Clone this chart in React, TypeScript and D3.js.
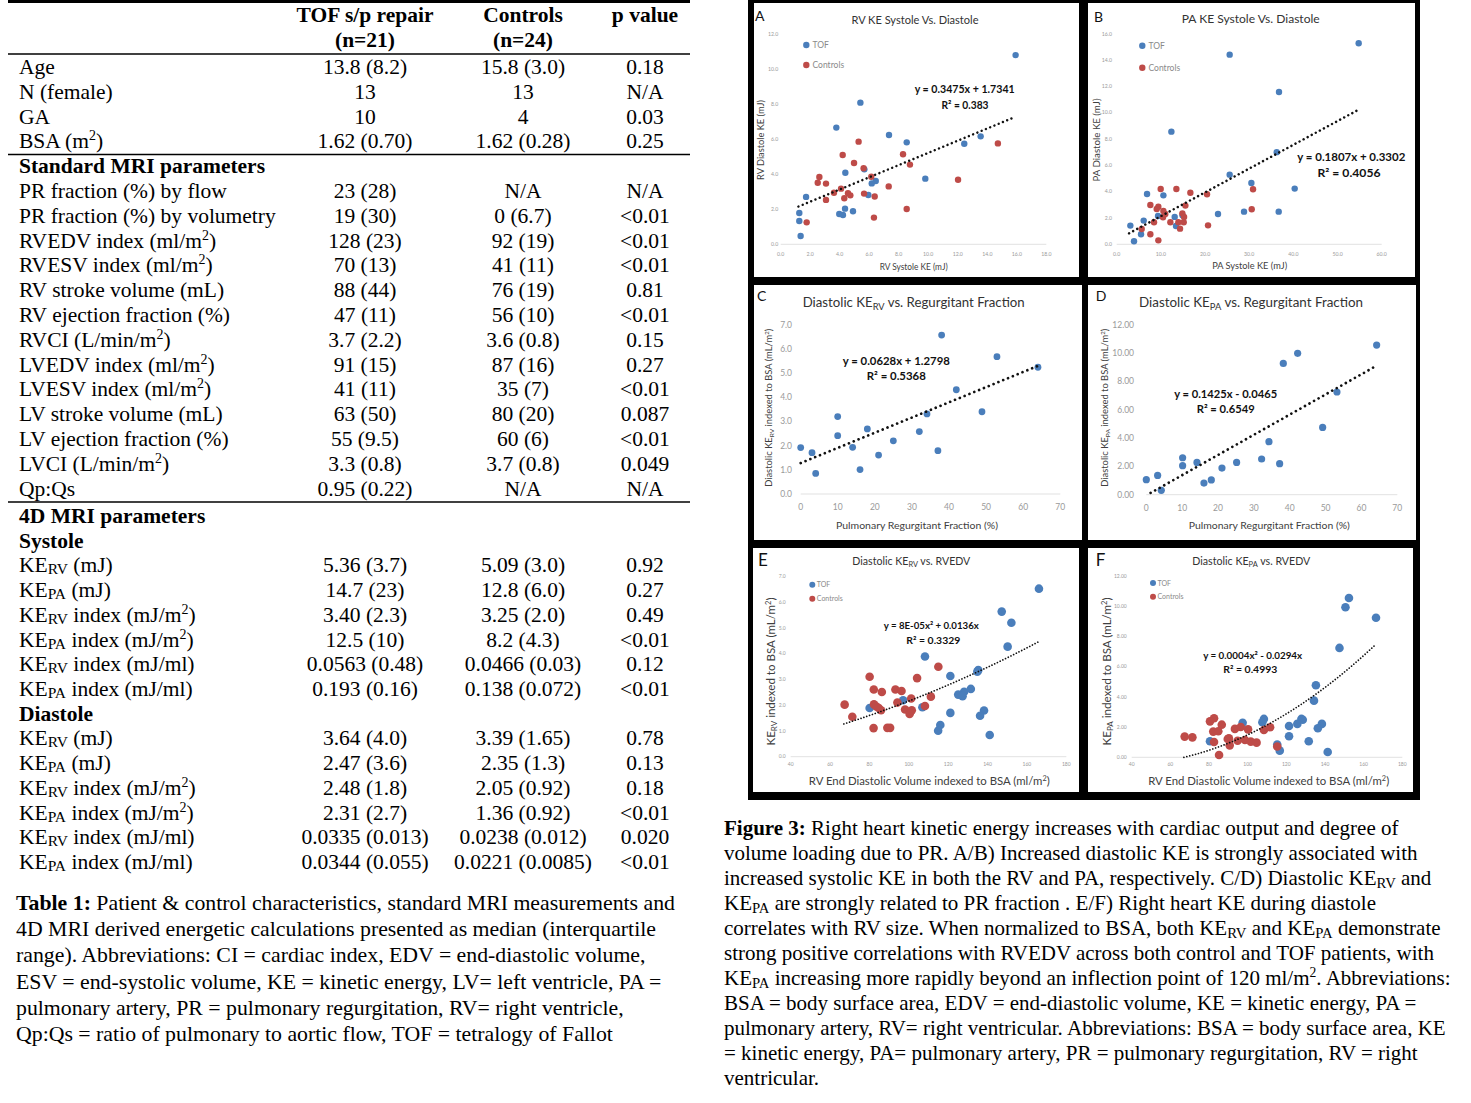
import React from 'react';
import * as d3 from 'd3';

// ---------------- Table data ----------------
const tableHead1 = ['TOF s/p repair', 'Controls', 'p value'];
const tableHead2 = ['(n=21)', '(n=24)', ''];

const tableBlock1: string[][] = [
  ['Age', '13.8 (8.2)', '15.8 (3.0)', '0.18'],
  ['N (female)', '13', '13', 'N/A'],
  ['GA', '10', '4', '0.03'],
  ['BSA (m^{2})', '1.62 (0.70)', '1.62 (0.28)', '0.25'],
  ['**Standard MRI parameters**', '', '', ''],
  ['PR fraction (%) by flow', '23 (28)', 'N/A', 'N/A'],
  ['PR fraction (%) by volumetry', '19 (30)', '0 (6.7)', '<0.01'],
  ['RVEDV index (ml/m^{2})', '128 (23)', '92 (19)', '<0.01'],
  ['RVESV index (ml/m^{2})', '70 (13)', '41 (11)', '<0.01'],
  ['RV stroke volume (mL)', '88 (44)', '76 (19)', '0.81'],
  ['RV ejection fraction (%)', '47 (11)', '56 (10)', '<0.01'],
  ['RVCI (L/min/m^{2})', '3.7 (2.2)', '3.6 (0.8)', '0.15'],
  ['LVEDV index (ml/m^{2})', '91 (15)', '87 (16)', '0.27'],
  ['LVESV index (ml/m^{2})', '41 (11)', '35 (7)', '<0.01'],
  ['LV stroke volume (mL)', '63 (50)', '80 (20)', '0.087'],
  ['LV ejection fraction (%)', '55 (9.5)', '60 (6)', '<0.01'],
  ['LVCI (L/min/m^{2})', '3.3 (0.8)', '3.7 (0.8)', '0.049'],
  ['Qp:Qs', '0.95 (0.22)', 'N/A', 'N/A'],
];

const tableBlock2: string[][] = [
  ['**4D MRI parameters**', '', '', ''],
  ['**Systole**', '', '', ''],
  ['KE_{RV} (mJ)', '5.36 (3.7)', '5.09 (3.0)', '0.92'],
  ['KE_{PA} (mJ)', '14.7 (23)', '12.8 (6.0)', '0.27'],
  ['KE_{RV} index (mJ/m^{2})', '3.40 (2.3)', '3.25 (2.0)', '0.49'],
  ['KE_{PA} index (mJ/m^{2})', '12.5 (10)', '8.2 (4.3)', '<0.01'],
  ['KE_{RV} index (mJ/ml)', '0.0563 (0.48)', '0.0466 (0.03)', '0.12'],
  ['KE_{PA} index (mJ/ml)', '0.193 (0.16)', '0.138 (0.072)', '<0.01'],
  ['**Diastole**', '', '', ''],
  ['KE_{RV} (mJ)', '3.64 (4.0)', '3.39 (1.65)', '0.78'],
  ['KE_{PA} (mJ)', '2.47 (3.6)', '2.35 (1.3)', '0.13'],
  ['KE_{RV} index (mJ/m^{2})', '2.48 (1.8)', '2.05 (0.92)', '0.18'],
  ['KE_{PA} index (mJ/m^{2})', '2.31 (2.7)', '1.36 (0.92)', '<0.01'],
  ['KE_{RV} index (mJ/ml)', '0.0335 (0.013)', '0.0238 (0.012)', '0.020'],
  ['KE_{PA} index (mJ/ml)', '0.0344 (0.055)', '0.0221 (0.0085)', '<0.01'],
];

const tableCaption = [
  '**Table 1:** Patient & control characteristics, standard MRI measurements and',
  '4D MRI derived energetic calculations presented as median (interquartile',
  'range). Abbreviations: CI = cardiac index, EDV = end-diastolic volume,',
  'ESV = end-systolic volume, KE = kinetic energy, LV= left ventricle, PA =',
  'pulmonary artery, PR = pulmonary regurgitation, RV= right ventricle,',
  'Qp:Qs = ratio of pulmonary to aortic flow, TOF = tetralogy of Fallot',
];

const figCaption = [
  '**Figure 3:** Right heart kinetic energy increases with cardiac output and degree of',
  'volume loading due to PR. A/B) Increased diastolic KE is strongly associated with',
  'increased systolic KE in both the RV and PA, respectively. C/D) Diastolic KE_{RV} and',
  'KE_{PA} are strongly related to PR fraction . E/F) Right heart KE during diastole',
  'correlates with RV size. When normalized to BSA, both KE_{RV} and KE_{PA} demonstrate',
  'strong positive correlations with RVEDV across both control and TOF patients, with',
  'KE_{PA} increasing more rapidly beyond an inflection point of 120 ml/m^{2}. Abbreviations:',
  'BSA = body surface area, EDV = end-diastolic volume, KE = kinetic energy, PA =',
  'pulmonary artery, RV= right ventricular. Abbreviations: BSA = body surface area, KE',
  '= kinetic energy, PA= pulmonary artery, PR = pulmonary regurgitation, RV = right',
  'ventricular.',
];

// ---------------- Scatter data ----------------
const legendLabels = ['TOF', 'Controls'];

const aTof: [number, number][] = [[15.92,10.78],[5.40,8.07],[3.77,6.65],[7.34,6.23],[8.54,5.81],[12.44,5.73],[13.55,6.15],[9.80,3.74],[4.38,4.08],[5.67,4.27],[6.17,3.47],[6.44,3.61],[5.94,2.81],[1.72,2.70],[4.36,2.03],[4.90,1.88],[3.97,1.73],[4.22,1.67],[1.26,1.78],[1.26,1.33],[1.35,0.47]];
const aCtl: [number, number][] = [[5.28,5.85],[4.20,5.09],[4.97,4.63],[5.62,4.33],[8.29,5.13],[8.76,4.54],[14.72,5.75],[12.02,3.68],[2.62,3.84],[2.51,3.51],[3.07,3.46],[6.14,3.85],[7.32,3.30],[4.09,3.17],[3.61,2.94],[4.56,2.91],[4.72,2.79],[5.65,2.89],[6.37,2.72],[3.07,2.53],[4.31,2.62],[8.54,2.01],[6.32,1.52],[1.76,1.25]];

const bTof: [number, number][] = [[54.79,15.27],[25.58,14.41],[36.75,11.57],[12.38,8.56],[36.23,7.0],[25.58,5.29],[30.49,4.66],[40.30,4.23],[6.87,3.82],[10.57,3.72],[22.94,2.30],[28.83,2.48],[36.68,2.48],[6.11,1.80],[9.36,2.15],[13.13,2.08],[13.43,1.39],[3.09,1.42],[5.51,0.76],[3.92,0.23],[14.9,2.2]];
const bCtl: [number, number][] = [[9.96,4.20],[13.51,4.20],[16.68,3.92],[20.45,3.80],[30.87,4.18],[30.57,2.66],[7.62,2.99],[9.43,2.86],[9.06,2.68],[10.57,2.53],[10.49,2.05],[15.55,2.94],[14.87,2.35],[15.25,2.08],[15.17,1.67],[8.45,1.67],[12.15,1.67],[13.96,1.67],[14.34,1.19],[20.68,1.44],[5.66,1.16],[7.62,0.76],[9.43,0.30],[11.0,2.3]];

const cTof: [number, number][] = [[0,1.92],[3.05,1.71],[4.04,0.85],[9.97,3.20],[9.97,2.41],[14.0,1.93],[16.0,1.01],[17.97,2.69],[21.0,1.61],[24.98,2.20],[31.99,2.58],[34.05,3.31],[37.0,1.79],[38.0,6.57],[41.96,4.31],[48.88,3.40],[52.92,5.68],[63.97,5.24]];
const dTof: [number, number][] = [[0,1.06],[3.16,1.36],[4.18,0.31],[10.13,2.61],[10.13,2.05],[14.13,2.28],[16.08,0.82],[18.13,1.04],[21.10,1.88],[25.19,2.28],[32.16,2.52],[34.21,3.74],[37.19,2.19],[38.21,9.27],[42.21,9.98],[49.18,4.75],[53.17,7.25],[64.24,10.56]];

const eTof: [number, number][] = [[166.1,6.52],[147.2,5.63],[152.1,5.20],[150.2,4.27],[108.2,3.89],[134.8,3.30],[135.3,3.36],[121.1,3.13],[131.5,2.63],[128.1,2.52],[125.1,2.41],[127.3,2.35],[97.1,2.19],[80.1,1.89],[106.9,1.92],[121.1,1.70],[138.2,1.79],[136.2,1.59],[116.0,1.23],[114.9,1.01],[141.1,0.84]];
const eCtl: [number, number][] = [[80.1,3.10],[115.0,3.49],[104.2,3.05],[82.2,2.61],[86.3,2.51],[93.2,2.61],[96.3,2.55],[101.2,2.26],[111.2,2.33],[94.2,2.10],[67.4,2.02],[82.3,2.03],[84.7,1.89],[85.9,1.80],[98.1,1.83],[100.9,1.75],[100.4,1.66],[108.2,1.97],[71.3,1.55],[82.1,1.11],[89.1,1.12],[90.5,1.12],[83.5,1.95],[101.5,1.8]];

const fTof: [number, number][] = [[152.4,10.54],[150.6,9.93],[166.4,9.24],[147.5,7.24],[135.3,4.77],[134.3,3.75],[97.4,2.29],[108.4,2.54],[107.6,2.32],[127.8,2.54],[128.5,2.49],[138.4,2.21],[125.7,2.21],[121.4,2.07],[136.3,1.92],[121.4,1.39],[131.6,1.06],[80.5,1.06],[115.3,0.84],[116.6,0.44],[141.4,0.35]];
const fCtl: [number, number][] = [[82.6,2.58],[80.5,2.38],[86.6,2.16],[93.4,1.88],[96.4,2.01],[100.2,1.85],[111.6,1.99],[108.4,1.81],[82.2,1.70],[84.8,1.72],[67.4,1.37],[71.4,1.32],[89.7,1.21],[94.8,1.10],[98.6,1.15],[101.6,1.04],[104.6,0.97],[82.6,1.01],[90.7,0.79],[115.3,0.71],[85.2,0.15],[90.3,1.25]];

// Trend-line coefficients (as fitted in the figure)
const trendA = { a: 0, b: 0.3475, c: 1.7341, from: 1.2, to: 15.9 };
const trendB = { a: 0, b: 0.1807, c: 0.3302, from: 2.8, to: 54.9 };
const trendC = { a: 0, b: 0.0628, c: 1.2798, from: 0, to: 64 };
const trendD = { a: 0, b: 0.1425, c: -0.0465, from: 1.2, to: 63.5 };
const trendE = { a: 0.00008, b: 0.0136, c: 0, from: 67, to: 166 };
const trendF = { a: 0.000453, b: -0.0304, c: 0, from: 67, to: 166 };

const eqA = ['y = 0.3475x + 1.7341', 'R² = 0.383'];
const eqB = ['y = 0.1807x + 0.3302', 'R² = 0.4056'];
const eqC = ['y = 0.0628x + 1.2798', 'R² = 0.5368'];
const eqD = ['y = 0.1425x - 0.0465', 'R² = 0.6549'];
const eqE = ['y = 8E-05x² + 0.0136x', 'R² = 0.3329'];
const eqF = ['y = 0.0004x² - 0.0294x', 'R² = 0.4993'];

const BLUE = '#4a7ebb';
const RED = '#be4b48';
const SANS = "Lato, 'Open Sans', sans-serif";
const SERIF = "'Liberation Serif', 'Times New Roman', serif";

function rich(text: string, fs: number, subScale = 0.7, subShift = fs * 0.2) {
  const parts = text.split(/(\*\*[^*]+\*\*|_\{[^}]+\}|\^\{[^}]+\})/).filter((s) => s.length);
  return parts.map((p, i) => {
    if (p.startsWith('**')) return <tspan key={i} fontWeight="bold">{p.slice(2, -2)}</tspan>;
    if (p.startsWith('_{'))
      return (
        <tspan key={i} fontSize={fs * subScale} baselineShift={-subShift}>
          {p.slice(2, -1)}
        </tspan>
      );
    if (p.startsWith('^{'))
      return (
        <tspan key={i} fontSize={fs * 0.65} baselineShift={fs * 0.38}>
          {p.slice(2, -1)}
        </tspan>
      );
    return <tspan key={i}>{p}</tspan>;
  });
}

type Trend = { a: number; b: number; c: number; from: number; to: number };
type PanelCfg = {
  label: string; labelX: number; labelY: number; labelFs: number;
  box: [number, number, number, number];
  title: string; titleX: number; titleY: number; titleFs: number; titleLen: number;
  xDomain: [number, number]; xRange: [number, number]; xStep: number; xFmt: string;
  yDomain: [number, number]; yRange: [number, number]; yStep: number; yFmt: string;
  tickFs: number; yTickGap: number; xTickGap: number;
  xTitle: string; xTitleX: number; xTitleY: number; xTitleFs: number; xTitleLen: number;
  yTitle: string; yTitleX: number; yTitleY: number; yTitleFs: number; yTitleLen: number;
  series: { data: [number, number][]; color: string }[]; r: number;
  legend?: { x: number; ys: number[]; textX: number; fs: number; r: number };
  trend: Trend; trendW: number; trendGap: number;
  eq: string[]; eqPos: [number, number, number][]; eqFs: number;
};

const panels: PanelCfg[] = [
  {
    label: 'A', labelX: 755, labelY: 21, labelFs: 14, box: [754, 3, 325, 274],
    title: 'RV KE Systole Vs. Diastole', titleX: 915, titleY: 24, titleFs: 11.5, titleLen: 127,
    xDomain: [0, 18], xRange: [780.7, 1046.3], xStep: 2, xFmt: '.1f',
    yDomain: [0, 12], yRange: [244.3, 33.7], yStep: 2, yFmt: '.1f',
    tickFs: 5.2, yTickGap: 2.5, xTickGap: 10,
    xTitle: 'RV Systole KE (mJ)', xTitleX: 913.7, xTitleY: 269.5, xTitleFs: 8.5, xTitleLen: 68,
    yTitle: 'RV Diastole KE (mJ)', yTitleX: 763.7, yTitleY: 140, yTitleFs: 8.5, yTitleLen: 80,
    series: [{ data: aTof, color: BLUE }, { data: aCtl, color: RED }], r: 3.2,
    legend: { x: 806.3, ys: [45, 65], textX: 812.5, fs: 8.5, r: 3.2 },
    trend: trendA, trendW: 2.5, trendGap: 4.6,
    eq: eqA, eqPos: [[964.7, 93.3, 100], [965, 109, 47]], eqFs: 11.5,
  },
  {
    label: 'B', labelX: 1094, labelY: 22, labelFs: 14, box: [1088, 3, 327, 274],
    title: 'PA KE Systole Vs. Diastole', titleX: 1250.7, titleY: 23, titleFs: 11.5, titleLen: 138,
    xDomain: [0, 60], xRange: [1116.7, 1381.7], xStep: 10, xFmt: '.1f',
    yDomain: [0, 16], yRange: [244.3, 33.7], yStep: 2, yFmt: '.1f',
    tickFs: 5.2, yTickGap: 4.7, xTickGap: 9.5,
    xTitle: 'PA Systole KE (mJ)', xTitleX: 1249.7, xTitleY: 268.5, xTitleFs: 8.5, xTitleLen: 75,
    yTitle: 'PA Diastole KE (mJ)', yTitleX: 1099.7, yTitleY: 140, yTitleFs: 8.5, yTitleLen: 83,
    series: [{ data: bTof, color: BLUE }, { data: bCtl, color: RED }], r: 3.2,
    legend: { x: 1142.3, ys: [45.7, 67.7], textX: 1148.5, fs: 8.5, r: 3.2 },
    trend: trendB, trendW: 2.5, trendGap: 4.6,
    eq: eqB, eqPos: [[1351.3, 160.7, 108], [1349, 176.7, 63]], eqFs: 11.5,
  },
  {
    label: 'C', labelX: 757, labelY: 300.5, labelFs: 14, box: [754, 285, 328, 255],
    title: 'Diastolic KE_{RV} vs. Regurgitant Fraction', titleX: 913.7, titleY: 306.5, titleFs: 12.5, titleLen: 222,
    xDomain: [0, 70], xRange: [800.7, 1060.3], xStep: 10, xFmt: 'd',
    yDomain: [0, 7], yRange: [494, 324.7], yStep: 1, yFmt: '.1f',
    tickFs: 8.5, yTickGap: 8.7, xTickGap: 13,
    xTitle: 'Pulmonary Regurgitant Fraction (%)', xTitleX: 917, xTitleY: 528.5, xTitleFs: 9.5, xTitleLen: 162,
    yTitle: 'Diastolic KE_{RV} indexed to BSA (mL/m^{2})', yTitleX: 771.7, yTitleY: 407.8, yTitleFs: 9, yTitleLen: 158,
    series: [{ data: cTof, color: BLUE }], r: 3.4,
    trend: trendC, trendW: 2.7, trendGap: 5.2,
    eq: eqC, eqPos: [[896.3, 365.3, 107], [896.3, 380, 59]], eqFs: 11.5,
  },
  {
    label: 'D', labelX: 1095.7, labelY: 300.5, labelFs: 14, box: [1088, 285, 328, 255],
    title: 'Diastolic  KE_{PA} vs. Regurgitant Fraction', titleX: 1251, titleY: 306.5, titleFs: 12.5, titleLen: 224,
    xDomain: [0, 70], xRange: [1146.3, 1397.3], xStep: 10, xFmt: 'd',
    yDomain: [0, 12], yRange: [494.7, 324.7], yStep: 2, yFmt: '.2f',
    tickFs: 8.5, yTickGap: 12.3, xTickGap: 13.3,
    xTitle: 'Pulmonary Regurgitant Fraction (%)', xTitleX: 1269.3, xTitleY: 528.5, xTitleFs: 9.5, xTitleLen: 161,
    yTitle: 'Diastolic KE_{PA} indexed to BSA (mL/m^{2})', yTitleX: 1107.7, yTitleY: 407.8, yTitleFs: 9, yTitleLen: 158,
    series: [{ data: dTof, color: BLUE }], r: 3.6,
    trend: trendD, trendW: 2.7, trendGap: 5.2,
    eq: eqD, eqPos: [[1225.7, 397.7, 103], [1225.7, 413.3, 58]], eqFs: 11.5,
  },
  {
    label: 'E', labelX: 758, labelY: 566, labelFs: 17, box: [753, 548, 326, 244],
    title: 'Diastolic KE_{RV} vs. RVEDV', titleX: 911.3, titleY: 565, titleFs: 10.5, titleLen: 118,
    xDomain: [40, 180], xRange: [790.7, 1066.3], xStep: 20, xFmt: 'd',
    yDomain: [0, 7], yRange: [756.7, 576.3], yStep: 1, yFmt: '.1f',
    tickFs: 5, yTickGap: 5, xTickGap: 8,
    xTitle: 'RV End Diastolic Volume indexed to BSA (ml/m^{2})', xTitleX: 929.3, xTitleY: 784.5, xTitleFs: 11, xTitleLen: 241,
    yTitle: 'KE_{RV} indexed to BSA (mL/m^{2})', yTitleX: 775, yTitleY: 671.5, yTitleFs: 10.5, yTitleLen: 148,
    series: [{ data: eTof, color: BLUE }, { data: eCtl, color: RED }], r: 4.3,
    legend: { x: 812.3, ys: [584.7, 598.7], textX: 816.8, fs: 7, r: 3 },
    trend: trendE, trendW: 1.7, trendGap: 3,
    eq: eqE, eqPos: [[931.3, 629.3, 95], [933.3, 643.6, 54]], eqFs: 9.5,
  },
  {
    label: 'F', labelX: 1095.7, labelY: 566, labelFs: 17, box: [1088, 548, 325, 244],
    title: 'Diastolic KE_{PA} vs. RVEDV', titleX: 1251.3, titleY: 564.5, titleFs: 10.5, titleLen: 118,
    xDomain: [40, 180], xRange: [1131.7, 1402.3], xStep: 20, xFmt: 'd',
    yDomain: [0, 12], yRange: [757.3, 576], yStep: 2, yFmt: '.2f',
    tickFs: 5, yTickGap: 5, xTickGap: 7.4,
    xTitle: 'RV End Diastolic Volume indexed to BSA (ml/m^{2})', xTitleX: 1268.7, xTitleY: 784.5, xTitleFs: 11, xTitleLen: 241,
    yTitle: 'KE_{PA} indexed to BSA (mL/m^{2})', yTitleX: 1111, yTitleY: 671.5, yTitleFs: 10.5, yTitleLen: 148,
    series: [{ data: fTof, color: BLUE }, { data: fCtl, color: RED }], r: 4.3,
    legend: { x: 1153, ys: [583, 596.7], textX: 1157.5, fs: 7, r: 3 },
    trend: trendF, trendW: 1.7, trendGap: 3,
    eq: eqF, eqPos: [[1252.7, 659.3, 99], [1250.3, 673, 54]], eqFs: 9.5,
  },
];

function Panel({ c }: { c: PanelCfg }) {
  const x = d3.scaleLinear().domain(c.xDomain).range(c.xRange);
  const y = d3.scaleLinear().domain(c.yDomain).range(c.yRange);
  const xt = d3.range(c.xDomain[0], c.xDomain[1] + 1e-9, c.xStep);
  const yt = d3.range(c.yDomain[0], c.yDomain[1] + 1e-9, c.yStep);
  const xf = d3.format(c.xFmt);
  const yf = d3.format(c.yFmt);
  const t = c.trend;
  const tx = d3.range(t.from, t.to + 1e-9, (t.to - t.from) / 80);
  const line = d3
    .line<number>()
    .x((v) => x(v))
    .y((v) => y(t.a * v * v + t.b * v + t.c));
  const [bx, by, bw, bh] = c.box;
  return (
    <g fontFamily={SANS}>
      <rect x={bx} y={by} width={bw} height={bh} fill="#fff" />
      <text x={c.labelX} y={c.labelY} fontSize={c.labelFs} fill="#111">{c.label}</text>
      <text x={c.titleX} y={c.titleY} fontSize={c.titleFs} fill="#333" textAnchor="middle"
        textLength={c.titleLen} lengthAdjust="spacingAndGlyphs">
        {rich(c.title, c.titleFs)}
      </text>
      <line x1={c.xRange[0]} x2={c.xRange[1]} y1={c.yRange[0]} y2={c.yRange[0]} stroke="#d9d9d9" strokeWidth={0.8} />
      {yt.map((v) => (
        <text key={'y' + v} x={c.xRange[0] - c.yTickGap} y={y(v) + c.tickFs * 0.35} fontSize={c.tickFs}
          fill="#9a9a9a" textAnchor="end">{yf(v)}</text>
      ))}
      {xt.map((v) => (
        <text key={'x' + v} x={x(v)} y={c.yRange[0] + c.xTickGap + c.tickFs * 0.35} fontSize={c.tickFs}
          fill="#9a9a9a" textAnchor="middle">{xf(v)}</text>
      ))}
      <text x={c.xTitleX} y={c.xTitleY} fontSize={c.xTitleFs} fill="#404040" textAnchor="middle"
        textLength={c.xTitleLen} lengthAdjust="spacingAndGlyphs">{rich(c.xTitle, c.xTitleFs)}</text>
      <text transform={`translate(${c.yTitleX},${c.yTitleY}) rotate(-90)`} fontSize={c.yTitleFs} fill="#404040"
        textAnchor="middle" textLength={c.yTitleLen} lengthAdjust="spacingAndGlyphs">
        {rich(c.yTitle, c.yTitleFs)}
      </text>
      {c.series.map((s, si) => (
        <g key={si}>
          {s.data.map((d, i) => (
            <circle key={i} cx={x(d[0])} cy={y(d[1])} r={c.r} fill={s.color} />
          ))}
        </g>
      ))}
      <path d={line(tx) || ''} fill="none" stroke="#111" strokeWidth={c.trendW}
        strokeDasharray={`0.01 ${c.trendGap}`} strokeLinecap="round" />
      {c.eq.map((e, i) => (
        <text key={i} x={c.eqPos[i][0]} y={c.eqPos[i][1]} fontSize={c.eqFs} fontWeight="bold" fill="#111"
          textAnchor="middle" textLength={c.eqPos[i][2]} lengthAdjust="spacingAndGlyphs">{e}</text>
      ))}
      {c.legend &&
        c.series.map((s, i) => (
          <g key={'l' + i}>
            <circle cx={c.legend!.x} cy={c.legend!.ys[i]} r={c.legend!.r} fill={s.color} />
            <text x={c.legend!.textX} y={c.legend!.ys[i] + c.legend!.fs * 0.36} fontSize={c.legend!.fs} fill="#8a8a8a">
              {legendLabels[i]}
            </text>
          </g>
        ))}
    </g>
  );
}

function Table() {
  const fs = 21.5;
  const cfs = 21.8;
  const cols = [365, 523, 645];
  const block1Y = (i: number) => 67 + 24.8 * i;
  const block2Y = (i: number) => 516 + 24.71 * i;
  const row = (r: string[], cy: number, k: string) => (
    <g key={k}>
      <text x={19} y={cy + 7} fontSize={fs}>{rich(r[0], fs, 0.72, 1.5)}</text>
      {r.slice(1).map((v, j) => (
        <text key={j} x={cols[j]} y={cy + 7} fontSize={fs} textAnchor="middle">{v}</text>
      ))}
    </g>
  );
  return (
    <g fontFamily={SERIF} fill="#000">
      <line x1={8} x2={690} y1={1.5} y2={1.5} stroke="#000" strokeWidth={3} />
      {tableHead1.map((h, j) => (
        <text key={'h1' + j} x={cols[j]} y={22} fontSize={fs} fontWeight="bold" textAnchor="middle">{h}</text>
      ))}
      {tableHead2.map((h, j) => (
        <text key={'h2' + j} x={cols[j]} y={47} fontSize={fs} fontWeight="bold" textAnchor="middle">{h}</text>
      ))}
      <line x1={8} x2={690} y1={54} y2={54} stroke="#000" strokeWidth={1.4} />
      <line x1={8} x2={690} y1={154.5} y2={154.5} stroke="#000" strokeWidth={1.4} />
      <line x1={8} x2={690} y1={502} y2={502} stroke="#000" strokeWidth={1.4} />
      {tableBlock1.map((r, i) => row(r, block1Y(i), 'a' + i))}
      {tableBlock2.map((r, i) => row(r, block2Y(i), 'b' + i))}
      {tableCaption.map((l, i) => (
        <text key={'c' + i} x={16} y={903 + 26.2 * i + 7} fontSize={cfs}>{rich(l, cfs)}</text>
      ))}
    </g>
  );
}

export default function App() {
  const ffs = 21;
  return (
    <svg width={1471} height={1103} style={{ position: 'absolute', left: 0, top: 0, background: '#fff' }}>
      <rect x={0} y={0} width={1471} height={1103} fill="#fff" />
      <Table />
      <rect x={748} y={0} width={672} height={800} fill="#000" />
      {panels.map((p) => (
        <Panel key={p.label} c={p} />
      ))}
      <g fontFamily={SERIF} fill="#000">
        {figCaption.map((l, i) => (
          <text key={i} x={724} y={828 + 25 * i + 7} fontSize={ffs}>{rich(l, ffs, 0.7, 3)}</text>
        ))}
      </g>
    </svg>
  );
}
